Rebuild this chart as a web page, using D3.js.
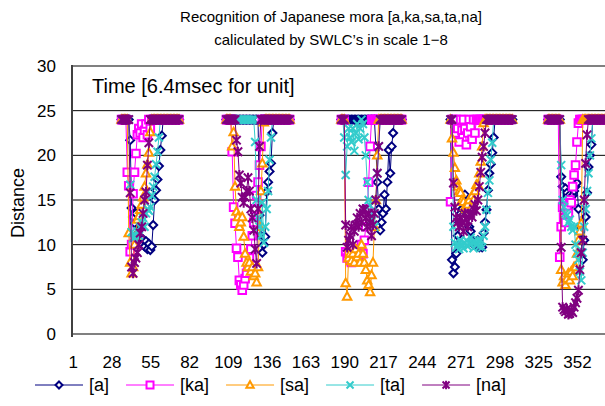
<!DOCTYPE html>
<html>
<head>
<meta charset="utf-8">
<script src="https://cdn.jsdelivr.net/npm/d3@7"></script>
<style>
  body { margin: 0; background: #fff; }
  svg { display: block; font-family: "Liberation Sans", Arial, sans-serif; }
</style>
</head>
<body>
<div id="chart"></div>
<script>
// number of frames on the category axis, and the labelled ones
var categoryCount = 371;
var xTickLabels = [1, 28, 55, 82, 109, 136, 163, 190, 217, 244, 271, 298, 325, 352];
var yTickValues = [0, 5, 10, 15, 20, 25, 30];

// first frame of each of the five utterances
var groupStart = [35, 108, 188, 264, 332];

// distances per utterance, one list per series
var seriesA = [
  [24,24,24,24,24,24, 21.7,14.1,13.1,12.4,13.5,11.2,10.5,11.8,10.1,10.6,9.8,10.4,9.5,10.1,9.4,9.8,12.2,15,16.1,17.3,18.8,20.6,22.2, 24,24,24,24,24,24,24,24,24,24,24,24],
  [24,24,24,24,24,24,24,24,24,24,24,24,24,24,24,24,24,24,24,24,24,24,24, 13.3,11,9.1,10,10.9,15.9,17,18.2,19.1,22.5, 24,24,24,24,24,24,24,24,24,24,24,24],
  [24,24,24,24,24,24,24,24,24,24,24,24,24,24,24,24,24,24,24,24,24,24,24,24, 21,17,14,11.6,12.5,13.5,15.6,14,17,20.6,18,21,22.5, 24,24,24,24,24,24],
  [24, 8.3,6.8,7.5,9,11,12.5,13.5,14,15,15.6,14.5,13.5,12,11.5,10.5,10,10.3,10,10.5,9.7,10,9.7,11.3,12.5,13.9,16.1,18,19,20.3,22, 24,24,24,24,24,24,24,24,24,24,24,24,24],
  [24,24,24,24,24,24,24,24,24, 17.6,16.5,15,16.3,15.8,15.2,15.6,14.5,15.5,16,16.5,16.9,14,12,10.5,8.3,10.5,13.1,15.8,18.7,20,21.2, 24,24,24,24,24,24,24,24,24]
];
var seriesKa = [
  [24,24,24,24, 18.1,16.6,9.2,10,15.7,18.1,20.2,22.3,23,22.5,23.5,22,22.8,23.5,22.3,24,23, 24,24,24,24,24,24,24,24,24,24,24,24,24,24,24,24,24,24,24,24],
  [24,24,24,24, 20.4,14.2,12.4,9.6,8.6,6,5.5,4.9,5.5,6.2,6.8,7.5,8.5,9.5,11,12.5,14,15.5,17,18.9,21, 24,24,24,24,24,24,24,24,24,24,24,24,24,24,24,24,24,24,24,24],
  [24,24,24, 9.2,8.5,9,8.2,8,8.5,9,8.7,9.5,8.5,9,10,9,10.5,12,14,17,21, 24,24,24,24,24,24,24,24,24,24,24,24,24,24,24,24,24,24,24,24,24,24],
  [14.8,24,24,22.5,24,23,21.5,24,22.8,24,23,21.2,22.5,24,23.2,21.8,24,22.5, 24,24,24,24,24,24,24,24,24,24,24,24,24,24,24,24,24,24,24,24,24,24,24,24],
  [24,24,24,24,24,24,24,24, 8.6,12,14.2,13,12.5,14,13.5,15,14.7,16.5,17.8,18.9,21.5,23.6, 24,24,24,24,24,24,24,24,24,24,24,24,24,24,24,24,24,24]
];
var seriesSa = [
  [24,24,24,24,24, 11.3,8,6.8,7.5,10,11,12.8,13.2,13.9,14.5,15.3,16.5,18,19,20.3,22.6, 24,24,24,24,24,24,24,24,24,24,24,24,24,24,24,24,24,24,24,24],
  [24,24,24,24, 21,22.6,16.5,13.7,13.1,12,12.5,13.1,10.9,9,8,7.5,8,7,7.5,6.5,6.8,5.8,7.5,12,16,19.1,23.7, 24,24,24,24,24,24,24,24,24,24,24,24,24,24,24,24,24,24],
  [24,24,24, 5.7,4.2,8.5,9,8.2,9,8,9.5,8.6,9,8,10,9,8,7.2,6,5.5,4.7,6.6,8,12,15,20, 24,24,24,24,24,24,24,24,24,24,24,24,24,24,24,24,24],
  [24, 21.9,20.3,18.6,17.2,16.5,16,15.8,15,14.8,14.2,14,14.5,15,14,15.5,15,16,16.7,16.7,18,19.3,21,23.6, 24,24,24,24,24,24,24,24,24,24,24,24,24,24,24,24,24,24,24,24],
  [24,24,24,24,24,24,24,24,24, 7.2,5.8,6.5,5.5,6.2,6.8,6,7,6.5,7.5,7.5,9,10.5,11.5,12.4, 24,24,24,24,24,24,24,24,24,24,24,24,24,24,24,24]
];
var seriesTa = [
  [24,24,24,24,24,24, 16.7,11.4,10.7,10.8,11,11.5,11,12,12.5,13,12,13.5,14,13.8,14.2,15.5,16.5,17.6,19,20.4,22, 24,24,24,24,24,24,24,24,24,24,24,24,24,24],
  [24,24,24,24,24,24,24,24,24,24,24,24,24,24,24,24,24,24,24,24, 21.5,15,13,12,11,14.7,10.2,12,14,16,19.5,22, 24,24,24,24,24,24,24,24,24,24,24,24,24],
  [24,24, 22,17.8,21,23,22,21.5,23,20.5,22.5,23.5,21.8,23,24,23.5,22,20,17,15,14.4,12.8,13.5,12,15,18,21, 24,24,24,24,24,24,24,24,24,24,24,24,24,24,24,24],
  [24,24, 12,10.2,9.7,10,9.5,10.5,10,9.6,10.2,10.5,9.8,10.2,10.8,10.2,9.6,10.4,10,10.5,9.8,10.5,9.7,11,12,13.9,15.8,17.2,19.5,21.4, 24,24,24,24,24,24,24,24,24,24,24,24,24,24],
  [24,24,24,24,24,24,24,24,24, 18.9,15,14.2,13.5,13.3,12.5,12.8,12,11.6,12,10,9,8.3,7,6,9.1,12,14,16,18,20,21.9, 24,24,24,24,24,24,24,24,24]
];
var seriesNa = [
  [24,24,24,24,24,24, 15.8,7.5,6.8,8,8.5,9.1,10,11.3,12,13.5,15,15.9,18.9,21.4, 24,24,24,24,24,24,24,24,24,24,24,24,24,24,24,24,24,24,24,24,24],
  [24,24,24,24,24,24,24, 21.7,20.4,17.8,16.9,15.3,14.7,15.3,16,17.5,16,14,13,11.6,9.5,7.9,14,21, 24,24,24,24,24,24,24,24,24,24,24,24,24,24,24,24,24,24,24,24,24],
  [24,24,24, 12.2,9.7,10.5,11,12,10,11.5,12.2,13,12,13.5,12.5,14,13.9,13,12,13.5,12.5,11,12.2,13.5,15,18,21, 24,24,24,24,24,24,24,24,24,24,24,24,24,24,24,24],
  [24,24, 16.9,14.2,13,12.5,12,13,12.5,11.5,13.5,12.8,12,13.4,13.5,13.1,14,14.5,13.8,15,16.5,18.1,19.8,21,22.5, 24,24,24,24,24,24,24,24,24,24,24,24,24,24,24,24,24,24,24],
  [24,24,24,24,24,24,24,24,24, 9.7,3,2.7,2.5,2.8,2.2,2.3,2.6,2.4,3,3.5,4,4.9,7.2,9.1,10.5,15,19.1,22.3, 24,24,24,24,24,24,24,24,24,24,24,24]
];

var seriesNames = ["[a]", "[ka]", "[sa]", "[ta]", "[na]"];
var seriesColors = ["#000080", "#ff00ff", "#ff9900", "#33cccc", "#800080"];
var seriesMarkers = ["diamond", "square", "triangle", "cross", "star"];
var allSeries = [seriesA, seriesKa, seriesSa, seriesTa, seriesNa];

var width = 605, height = 406;
var margin = {left: 72, top: 66, right: 0, bottom: 72};

var svg = d3.select("#chart").append("svg")
  .attr("width", width)
  .attr("height", height);

var x = d3.scalePoint()
  .domain(d3.range(1, categoryCount + 1))
  .range([margin.left, width - margin.right])
  .padding(0.5);

var y = d3.scaleLinear()
  .domain([0, 30])
  .range([height - margin.bottom, margin.top]);

// marker shapes like the spreadsheet ones
function markerPath(type, r) {
  if (type == "diamond") return "M0," + (-r) + "L" + r + ",0L0," + r + "L" + (-r) + ",0Z";
  if (type == "square") return "M" + (-r) + "," + (-r) + "H" + r + "V" + r + "H" + (-r) + "Z";
  if (type == "triangle") return "M0," + (-r * 1.1) + "L" + (r * 1.05) + "," + (r * 0.8) + "L" + (-r * 1.05) + "," + (r * 0.8) + "Z";
  if (type == "cross") return "M" + (-r) + "," + (-r) + "L" + r + "," + r + "M" + (-r) + "," + r + "L" + r + "," + (-r);
  // star = cross with a vertical stroke
  return "M" + (-r) + "," + (-r) + "L" + r + "," + r + "M" + (-r) + "," + r + "L" + r + "," + (-r) + "M0," + (-r * 1.2) + "L0," + (r * 1.2);
}
var markerSize = [4, 3.8, 4, 4, 4.2];
function markerFill(s) {
  return seriesMarkers[s] == "cross" || seriesMarkers[s] == "star" ? "none" : "#fff";
}

// gridlines
svg.selectAll(".grid")
  .data(yTickValues.filter(function(d) { return d > 0 && d < 30; }))
  .enter().append("line")
  .attr("x1", margin.left).attr("x2", width)
  .attr("y1", function(d) { return y(d); })
  .attr("y2", function(d) { return y(d); })
  .attr("stroke", "#000").attr("stroke-width", 1);

// plot frame
svg.append("line")
  .attr("x1", margin.left).attr("x2", width)
  .attr("y1", y(30)).attr("y2", y(30))
  .attr("stroke", "#808080").attr("stroke-width", 2);
svg.append("line")
  .attr("x1", margin.left).attr("x2", width)
  .attr("y1", y(0)).attr("y2", y(0))
  .attr("stroke", "#808080").attr("stroke-width", 2);

// series
var line = d3.line()
  .x(function(d) { return x(d.i); })
  .y(function(d) { return y(d.v); });

allSeries.forEach(function(series, s) {
  var g = svg.append("g");
  series.forEach(function(vals, k) {
    var pts = vals.map(function(v, p) { return {i: groupStart[k] + p, v: v}; })
      .filter(function(d) { return d.i <= categoryCount; });
    g.append("path")
      .attr("d", line(pts))
      .attr("fill", "none")
      .attr("stroke", seriesColors[s])
      .attr("stroke-width", 1);
    g.selectAll(null)
      .data(pts)
      .enter().append("path")
      .attr("transform", function(d) { return "translate(" + x(d.i) + "," + y(d.v) + ")"; })
      .attr("d", markerPath(seriesMarkers[s], markerSize[s]))
      .attr("fill", markerFill(s))
      .attr("stroke", seriesColors[s])
      .attr("stroke-width", 2);
  });
});

// left axis line drawn over the data
svg.append("line")
  .attr("x1", margin.left).attr("x2", margin.left)
  .attr("y1", y(30) - 1).attr("y2", y(0) + 3)
  .attr("stroke", "#404040").attr("stroke-width", 2);

// y axis
var yAxis = svg.append("g")
  .attr("transform", "translate(" + margin.left + ",0)")
  .call(d3.axisLeft(y).tickValues(yTickValues).tickSize(0).tickPadding(16));
yAxis.select(".domain").remove();
yAxis.selectAll("text").attr("font-size", "17px").attr("fill", "#000")
  .attr("font-family", "Liberation Sans, Arial, sans-serif");

// x axis
var xAxis = svg.append("g")
  .attr("transform", "translate(0," + y(0) + ")")
  .call(d3.axisBottom(x).tickValues(xTickLabels).tickSize(0).tickPadding(22));
xAxis.select(".domain").remove();
xAxis.selectAll("text").attr("font-size", "17px").attr("fill", "#000")
  .attr("font-family", "Liberation Sans, Arial, sans-serif");

// titles
svg.append("text")
  .attr("x", 331).attr("y", 22)
  .attr("text-anchor", "middle")
  .attr("font-size", "15px")
  .text("Recognition of Japanese mora [a,ka,sa,ta,na]");
svg.append("text")
  .attr("x", 331).attr("y", 45)
  .attr("text-anchor", "middle")
  .attr("font-size", "15px")
  .text("caliculated by SWLC\u2019s in scale 1\u22128");
svg.append("text")
  .attr("x", 92).attr("y", 93)
  .attr("font-size", "20px")
  .text("Time [6.4msec for unit]");
svg.append("text")
  .attr("transform", "translate(24,203) rotate(-90)")
  .attr("text-anchor", "middle")
  .attr("font-size", "18px")
  .text("Distance");

// legend, items laid out one after another
var legend = svg.append("g").attr("transform", "translate(0,385)");
var lx = 35;
seriesNames.forEach(function(name, s) {
  legend.append("line")
    .attr("x1", lx).attr("x2", lx + 48)
    .attr("y1", 0).attr("y2", 0)
    .attr("stroke", seriesColors[s]).attr("stroke-width", 1);
  legend.append("path")
    .attr("transform", "translate(" + (lx + 24) + ",0)")
    .attr("d", markerPath(seriesMarkers[s], 3.5))
    .attr("fill", markerFill(s))
    .attr("stroke", seriesColors[s])
    .attr("stroke-width", 2);
  var t = legend.append("text")
    .attr("x", lx + 54).attr("y", 6)
    .attr("font-size", "18px")
    .text(name);
  lx += 54 + t.node().getComputedTextLength() + 17;
});
</script>
</body>
</html>
